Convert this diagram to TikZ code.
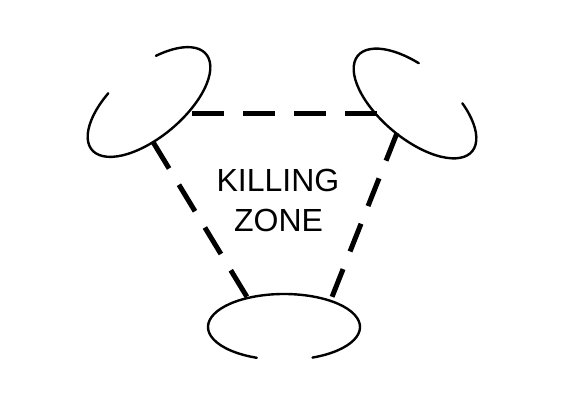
\documentclass[tikz,border=0pt]{standalone}
\usepackage{fontspec}
\setmainfont{Liberation Sans}
\begin{document}
\begin{tikzpicture}[x=1pt,y=1pt,
  ring/.style={draw=black, line width=2.4pt, line cap=round},
  link/.style={draw=black, line width=5pt},
  label/.style={inner sep=0pt, anchor=base, font=\fontsize{32}{40}\selectfont}]
\useasboundingbox (0,0) rectangle (568,420);
% rings (open ellipses)
\draw[ring, shift={(149,318)}, rotate=40] (110:74.5 and 35) arc[start angle=110, end angle=422, x radius=74.5, y radius=35];
\draw[ring, shift={(415,316.5)}, rotate=-40] (108:74.5 and 35) arc[start angle=108, end angle=421, x radius=74.5, y radius=35];
\draw[ring, shift={(284,93)}] (292:76 and 33) arc[start angle=292, end angle=609, x radius=76, y radius=33];
% attachment points
\coordinate (tlA) at (192,306);
\coordinate (tlB) at (153,278);
\coordinate (trA) at (377,306);
\coordinate (trB) at (397,287);
\coordinate (bL) at (247,123);
\coordinate (bR) at (332,123);
% dashed links
\draw[link, dash pattern=on 32pt off 19pt] (tlA) -- (trA);
\draw[link, dash pattern=on 31pt off 19pt] (tlB) -- (bL);
\draw[link, dash pattern=on 29.8pt off 19pt] (trB) -- (bR);
% label
\node[label] (kill) at (278,228) {KILLING};
\node[label] (zone) at (278.5,188) {ZONE};
\end{tikzpicture}
\end{document}
